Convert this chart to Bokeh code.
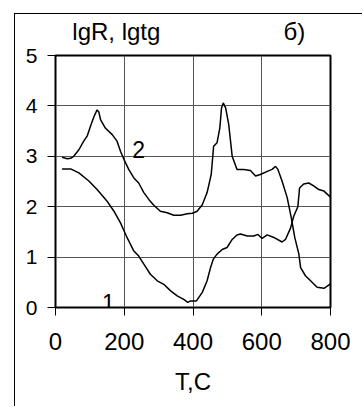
from bokeh.plotting import figure
from bokeh.models import Range1d, Label, FixedTicker, LinearAxis
from bokeh.embed import file_html
from bokeh.resources import INLINE

# Curve 1 (lgR)
t1 = [19, 44, 68, 97, 121, 150, 170, 189, 208, 228, 242, 257, 276, 296, 315, 335, 354, 373,
      385, 393, 410, 427, 441, 451, 459, 470, 485, 499, 514, 528, 538, 558, 577, 589, 601,
      616, 635, 659, 669, 684, 693, 705, 710, 722, 737, 752, 766, 781, 800]
y1 = [2.75, 2.75, 2.67, 2.51, 2.34, 2.11, 1.91, 1.68, 1.39, 1.12, 1.02, 0.86, 0.66, 0.53, 0.46,
      0.33, 0.23, 0.16, 0.10, 0.13, 0.13, 0.30, 0.53, 0.79, 0.96, 1.06, 1.15, 1.19, 1.35, 1.44,
      1.46, 1.42, 1.42, 1.45, 1.37, 1.44, 1.39, 1.30, 1.35, 1.58, 1.81, 2.00, 2.37, 2.45, 2.47,
      2.41, 2.34, 2.31, 2.19]

# Curve 2 (lgtg)
t2 = [19, 34, 44, 53, 68, 82, 92, 102, 112, 121, 126, 131, 145, 165, 179, 189, 199, 213, 228,
      242, 257, 272, 286, 305, 325, 344, 364, 383, 398, 412, 427, 441, 453, 460, 470, 478, 483,
      488, 495, 504, 514, 528, 548, 567, 582, 596, 616, 630, 640, 647, 659, 674, 686, 696, 708,
      713, 727, 742, 761, 781, 800]
y2 = [2.98, 2.95, 2.96, 3.00, 3.13, 3.30, 3.40, 3.60, 3.79, 3.92, 3.88, 3.73, 3.56, 3.43, 3.30,
      3.10, 2.94, 2.74, 2.57, 2.47, 2.28, 2.14, 2.03, 1.91, 1.88, 1.83, 1.83, 1.86, 1.87, 1.91,
      2.04, 2.28, 2.64, 3.20, 3.27, 3.56, 3.96, 4.06, 3.96, 3.63, 3.00, 2.74, 2.74, 2.72, 2.61,
      2.64, 2.70, 2.74, 2.80, 2.74, 2.51, 2.18, 1.78, 1.39, 1.06, 0.79, 0.63, 0.53, 0.40, 0.38,
      0.47]

x_ticks = [0, 200, 400, 600, 800]
y_ticks = [0, 1, 2, 3, 4, 5]
top_text_pos = [177, 695]
top_texts = ["lgR, lgtg", "б)"]
x_title = "T,C"

FONT = "Liberation Sans"

p = figure(width=348, height=393, output_backend="svg", toolbar_location=None,
           x_range=Range1d(0, 800), y_range=Range1d(0, 5),
           min_border_left=40, min_border_right=33, min_border_top=40, min_border_bottom=100,
           margin=(13, 0, 0, 14),
           styles={"border-left": "1px solid black", "border-top": "1px solid black"})
p.background_fill_color = "white"
p.border_fill_color = "white"
p.outline_line_color = "black"
p.outline_line_width = 2

p.xaxis.ticker = FixedTicker(ticks=x_ticks)
p.yaxis.ticker = FixedTicker(ticks=y_ticks)
for ax in (p.xaxis[0], p.yaxis[0]):
    ax.axis_line_color = "black"
    ax.axis_line_width = 1
    ax.major_tick_line_color = "black"
    ax.major_tick_out = 8
    ax.major_tick_in = 0
    ax.minor_tick_line_color = None
    ax.major_label_text_font = FONT
    ax.major_label_text_color = "black"
p.xaxis.major_label_text_font_size = "24px"
p.xaxis.major_label_standoff = 17
p.yaxis.major_label_text_font_size = "21px"
p.yaxis.major_label_standoff = 10
p.xaxis.axis_label = x_title
p.xaxis.axis_label_text_font = FONT
p.xaxis.axis_label_text_font_size = "24px"
p.xaxis.axis_label_text_font_style = "normal"
p.xaxis.axis_label_text_color = "black"
p.xaxis.axis_label_standoff = 15

top_axis = LinearAxis(ticker=FixedTicker(ticks=top_text_pos),
                      major_label_overrides={float(v): t for v, t in zip(top_text_pos, top_texts)})
top_axis.axis_line_color = None
top_axis.major_tick_line_color = None
top_axis.minor_tick_line_color = None
top_axis.major_label_text_font = FONT
top_axis.major_label_text_font_size = "24px"
top_axis.major_label_text_color = "black"
top_axis.major_label_standoff = 5
p.add_layout(top_axis, "above")

p.xgrid.ticker = FixedTicker(ticks=x_ticks)
p.ygrid.ticker = FixedTicker(ticks=y_ticks)
p.grid.grid_line_color = "#555555"
p.grid.grid_line_width = 1

p.line(t1, y1, line_color="black", line_width=1.5)
p.line(t2, y2, line_color="black", line_width=1.5)

def lab(x, y, text, size="23px"):
    p.add_layout(Label(x=x, y=y, text=text, text_font=FONT, text_font_size=size,
                       text_color="black", text_align="center", text_baseline="alphabetic"))

lab(154, 0.1, "1")
lab(242, 3.14, "2")

open("out.html", "w").write(file_html(p, INLINE))
